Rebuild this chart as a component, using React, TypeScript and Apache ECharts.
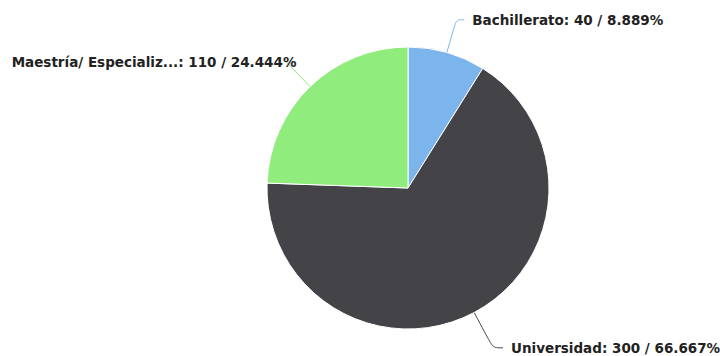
import React, { useEffect, useRef } from "react";
import * as echarts from "echarts";

const categories = ["Bachillerato", "Universidad", "Maestría/ Especializ..."];
const values = [40, 300, 110];
const percents = ["8.889%", "66.667%", "24.444%"];
const colors = ["#7cb5ec", "#434348", "#90ed7d"];
const lineLengths = [34, 40, 34];
const lineLengths2 = [8, 10, 0];
const labelGaps = [8, 8, -10];

export default function App() {
  const ref = useRef<HTMLDivElement>(null);
  useEffect(() => {
    document.body.style.margin = "0";
    const chart = echarts.init(ref.current!, null, { renderer: "svg" });
    chart.setOption({
      animation: false,
      backgroundColor: "#ffffff",
      series: [
        {
          type: "pie",
          center: [408, 188],
          radius: 141,
          startAngle: 90,
          clockwise: true,
          avoidLabelOverlap: false,
          itemStyle: { borderColor: "#ffffff", borderWidth: 1 },
          label: {
            show: true,
            position: "outside",
            fontFamily: "DejaVu Sans, Verdana, sans-serif",
            fontWeight: "bold",
            fontSize: 13.5,
            color: "#222222",
            formatter: (p: any) => `${p.name}: ${p.value} / ${percents[p.dataIndex]}`,
          },
          labelLine: {
            show: true,
            smooth: 0.3,
            lineStyle: { width: 1 },
          },
          data: categories.map((c, i) => ({
            name: c,
            value: values[i],
            itemStyle: { color: colors[i] },
            label: { distanceToLabelLine: labelGaps[i] },
            labelLine: { length: lineLengths[i], length2: lineLengths2[i] },
          })),
        },
      ],
    });
    return () => chart.dispose();
  }, []);
  return <div ref={ref} style={{ width: 720, height: 356 }} />;
}
